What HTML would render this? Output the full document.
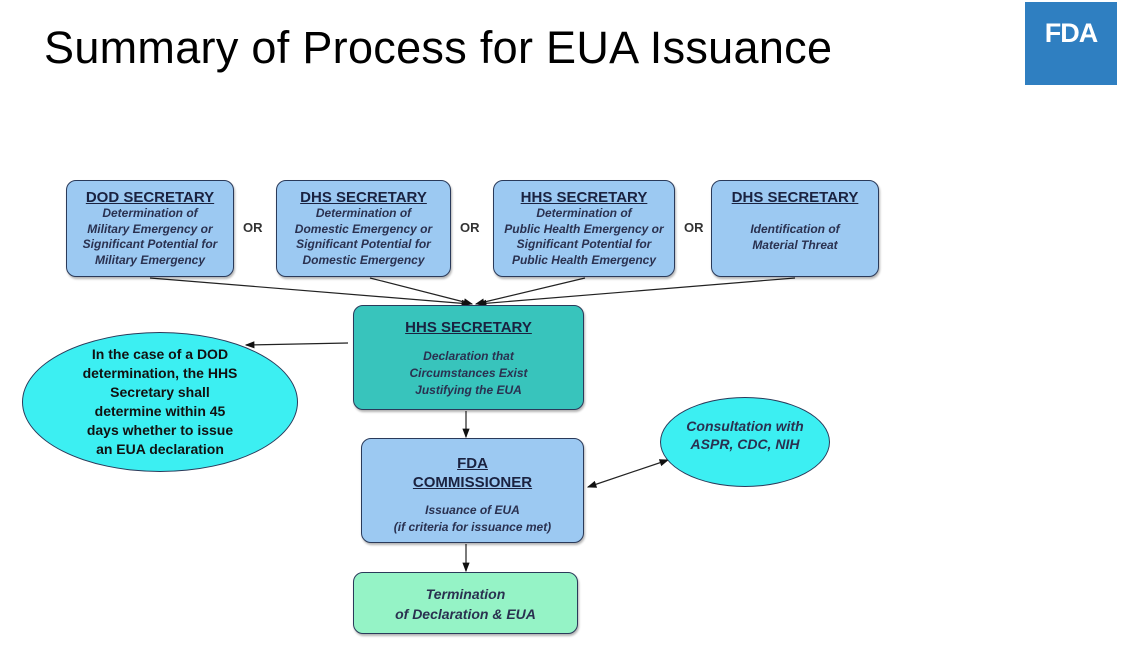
<!DOCTYPE html>
<html><head><style>
body{margin:0;width:1130px;height:659px;background:#fff;position:relative;overflow:hidden;font-family:"Liberation Sans",sans-serif}
.t{position:absolute;left:44px;top:22px;font-size:45px;color:#000;letter-spacing:0.3px}
.logo{position:absolute;left:1025px;top:2px;width:92px;height:83px;background:#2f7fc1;color:#fff;font-weight:bold;font-size:27px;text-align:center;line-height:62px;letter-spacing:-1px}
.b{position:absolute;box-sizing:border-box;border:1.5px solid #2a3a5a;border-radius:10px;text-align:center;color:#1a2240;box-shadow:1px 2px 2px rgba(0,0,0,.3)}
.blue{background:#9cc9f2}
.h{font-weight:bold;text-decoration:underline;font-size:15px}
.i{font-style:italic;font-weight:bold;font-size:12px;line-height:15.5px;color:#2a3150}
.or{position:absolute;top:220px;font-size:13px;font-weight:bold;color:#333}
.e{position:absolute;border-radius:50%;border:1.5px solid #2a3a5a;background:#3ceff2;display:flex;align-items:center;justify-content:center;text-align:center;box-sizing:border-box}
</style></head><body>
<div class="t">Summary of Process for EUA Issuance</div>
<div class="logo">FDA</div>
<svg style="position:absolute;left:0;top:0" width="1130" height="659">
<defs><marker id="a" markerWidth="8" markerHeight="8" refX="7" refY="4" orient="auto"><path d="M0,1 L8,4 L0,7z" fill="#111"/></marker>
<marker id="s" markerWidth="8" markerHeight="8" refX="1" refY="4" orient="auto"><path d="M8,1 L0,4 L8,7z" fill="#111"/></marker></defs>
<g stroke="#222" stroke-width="1.2" fill="none" marker-end="url(#a)">
<line x1="150" y1="278" x2="470" y2="304"/>
<line x1="370" y1="278" x2="472" y2="304"/>
<line x1="585" y1="278" x2="476" y2="304"/>
<line x1="795" y1="278" x2="478" y2="304"/>
<line x1="348" y1="343" x2="246" y2="345"/>
<line x1="466" y1="411" x2="466" y2="437"/>
<line x1="466" y1="544" x2="466" y2="571"/>
<line x1="588" y1="487" x2="668" y2="460" marker-start="url(#s)"/>
</g></svg>
<div class="b blue" style="left:66px;top:180px;width:168px;height:97px;padding-top:8px"><div class="h">DOD SECRETARY</div><div class="i">Determination of<br>Military Emergency or<br>Significant Potential for<br>Military Emergency</div></div>
<div class="or" style="left:243px">OR</div>
<div class="b blue" style="left:276px;top:180px;width:175px;height:97px;padding-top:8px"><div class="h">DHS SECRETARY</div><div class="i">Determination of<br>Domestic Emergency or<br>Significant Potential for<br>Domestic Emergency</div></div>
<div class="or" style="left:460px">OR</div>
<div class="b blue" style="left:493px;top:180px;width:182px;height:97px;padding-top:8px"><div class="h">HHS SECRETARY</div><div class="i">Determination of<br>Public Health Emergency or<br>Significant Potential for<br>Public Health Emergency</div></div>
<div class="or" style="left:684px">OR</div>
<div class="b blue" style="left:711px;top:180px;width:168px;height:97px;padding-top:8px"><div class="h">DHS SECRETARY</div><div class="i" style="margin-top:16px">Identification of<br>Material Threat</div></div>
<div class="b" style="left:353px;top:305px;width:231px;height:105px;background:#38c4bc;padding-top:13px"><div class="h">HHS SECRETARY</div><div class="i" style="margin-top:12px;line-height:17px">Declaration that<br>Circumstances Exist<br>Justifying the EUA</div></div>
<div class="b blue" style="left:361px;top:438px;width:223px;height:105px;padding-top:15px"><div class="h" style="line-height:19px">FDA<br>COMMISSIONER</div><div class="i" style="margin-top:10px;line-height:17px">Issuance of EUA<br>(if criteria for issuance met)</div></div>
<div class="b" style="left:353px;top:572px;width:225px;height:62px;background:#95f3c6;padding-top:11px"><div class="i" style="font-size:14px;line-height:20px">Termination<br>of Declaration &amp; EUA</div></div>
<div class="e" style="left:22px;top:332px;width:276px;height:140px"><div style="font-weight:bold;font-size:14px;line-height:19px;color:#111">In the case of a DOD<br>determination, the HHS<br>Secretary shall<br>determine within 45<br>days whether to issue<br>an EUA declaration</div></div>
<div class="e" style="left:660px;top:397px;width:170px;height:90px"><div class="i" style="font-size:14px;line-height:18px;margin-top:-14px">Consultation with<br>ASPR, CDC, NIH</div></div>
</body></html>
